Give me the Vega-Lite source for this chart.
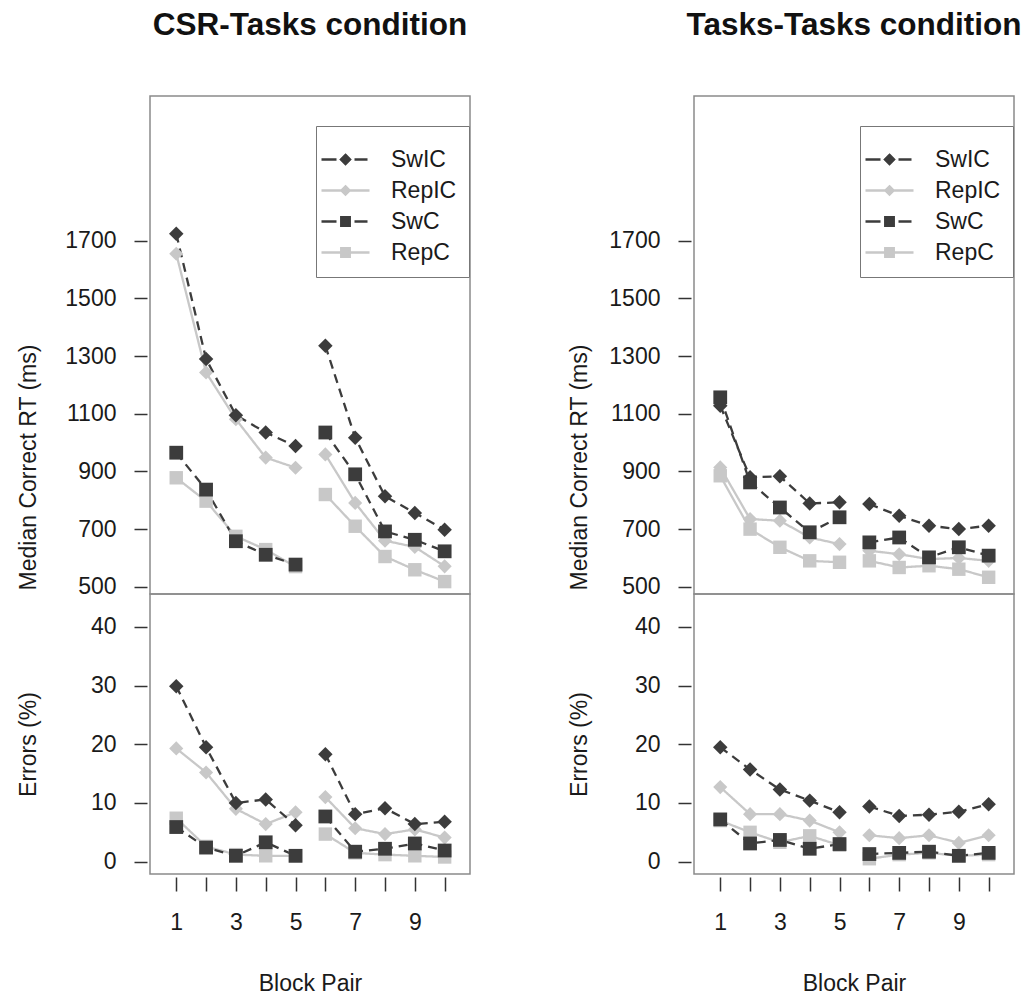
{
  "$schema": "https://vega.github.io/schema/vega-lite/v6.json",
  "background": "white",
  "padding": {"left": 16, "top": 8, "right": 2, "bottom": 2},
  "config": {
    "font": "Liberation Sans",
    "view": {"stroke": "#8a8a8a", "strokeWidth": 1.5},
    "axis": {"labelFont": "Liberation Sans", "labelFontSize": 23, "labelColor": "#1a1a1a", "titleFont": "Liberation Sans", "titleFontSize": 23, "titleFontWeight": "normal", "titleColor": "#1a1a1a", "tickColor": "#333333", "tickWidth": 1.5, "grid": false, "domain": false},
    "legend": {"orient": "none", "legendX": 166, "legendY": 30, "titleFontSize": 10, "titlePadding": 0, "padding": 12, "rowPadding": 7, "symbolSize": 400, "symbolStrokeWidth": 2.5, "symbolOffset": 6, "symbolOpacity": 1, "labelOffset": 34, "labelFontSize": 23, "labelFont": "Liberation Sans", "labelColor": "#1a1a1a", "strokeColor": "#777777", "fillColor": "white"},
    "title": {"font": "Liberation Sans"}
  },
  "datasets": {
    "csr_rt": [
      {"s":"RepC","b":1,"v":878,"g":1},{"s":"RepC","b":2,"v":797,"g":1},{"s":"RepC","b":3,"v":675,"g":1},{"s":"RepC","b":4,"v":629,"g":1},{"s":"RepC","b":5,"v":570,"g":1},
      {"s":"RepC","b":6,"v":820,"g":2},{"s":"RepC","b":7,"v":710,"g":2},{"s":"RepC","b":8,"v":605,"g":2},{"s":"RepC","b":9,"v":559,"g":2},{"s":"RepC","b":10,"v":518,"g":2},
      {"s":"RepIC","b":1,"v":1655,"g":1},{"s":"RepIC","b":2,"v":1243,"g":1},{"s":"RepIC","b":3,"v":1081,"g":1},{"s":"RepIC","b":4,"v":948,"g":1},{"s":"RepIC","b":5,"v":913,"g":1},
      {"s":"RepIC","b":6,"v":959,"g":2},{"s":"RepIC","b":7,"v":791,"g":2},{"s":"RepIC","b":8,"v":660,"g":2},{"s":"RepIC","b":9,"v":638,"g":2},{"s":"RepIC","b":10,"v":571,"g":2},
      {"s":"SwIC","b":1,"v":1724,"g":1},{"s":"SwIC","b":2,"v":1290,"g":1},{"s":"SwIC","b":3,"v":1095,"g":1},{"s":"SwIC","b":4,"v":1035,"g":1},{"s":"SwIC","b":5,"v":988,"g":1},
      {"s":"SwIC","b":6,"v":1336,"g":2},{"s":"SwIC","b":7,"v":1017,"g":2},{"s":"SwIC","b":8,"v":814,"g":2},{"s":"SwIC","b":9,"v":756,"g":2},{"s":"SwIC","b":10,"v":698,"g":2},
      {"s":"SwC","b":1,"v":965,"g":1},{"s":"SwC","b":2,"v":837,"g":1},{"s":"SwC","b":3,"v":658,"g":1},{"s":"SwC","b":4,"v":611,"g":1},{"s":"SwC","b":5,"v":577,"g":1},
      {"s":"SwC","b":6,"v":1035,"g":2},{"s":"SwC","b":7,"v":890,"g":2},{"s":"SwC","b":8,"v":692,"g":2},{"s":"SwC","b":9,"v":663,"g":2},{"s":"SwC","b":10,"v":623,"g":2}
    ],
    "csr_err": [
      {"s":"RepC","b":1,"v":7.4,"g":1},{"s":"RepC","b":2,"v":2.6,"g":1},{"s":"RepC","b":3,"v":1.2,"g":1},{"s":"RepC","b":4,"v":1.0,"g":1},{"s":"RepC","b":5,"v":1.0,"g":1},
      {"s":"RepC","b":6,"v":4.7,"g":2},{"s":"RepC","b":7,"v":1.5,"g":2},{"s":"RepC","b":8,"v":1.2,"g":2},{"s":"RepC","b":9,"v":1.0,"g":2},{"s":"RepC","b":10,"v":0.8,"g":2},
      {"s":"RepIC","b":1,"v":19.3,"g":1},{"s":"RepIC","b":2,"v":15.2,"g":1},{"s":"RepIC","b":3,"v":9.0,"g":1},{"s":"RepIC","b":4,"v":6.4,"g":1},{"s":"RepIC","b":5,"v":8.4,"g":1},
      {"s":"RepIC","b":6,"v":11.0,"g":2},{"s":"RepIC","b":7,"v":5.7,"g":2},{"s":"RepIC","b":8,"v":4.7,"g":2},{"s":"RepIC","b":9,"v":5.5,"g":2},{"s":"RepIC","b":10,"v":4.1,"g":2},
      {"s":"SwIC","b":1,"v":29.9,"g":1},{"s":"SwIC","b":2,"v":19.5,"g":1},{"s":"SwIC","b":3,"v":10.0,"g":1},{"s":"SwIC","b":4,"v":10.6,"g":1},{"s":"SwIC","b":5,"v":6.2,"g":1},
      {"s":"SwIC","b":6,"v":18.3,"g":2},{"s":"SwIC","b":7,"v":8.1,"g":2},{"s":"SwIC","b":8,"v":9.1,"g":2},{"s":"SwIC","b":9,"v":6.4,"g":2},{"s":"SwIC","b":10,"v":6.8,"g":2},
      {"s":"SwC","b":1,"v":5.9,"g":1},{"s":"SwC","b":2,"v":2.4,"g":1},{"s":"SwC","b":3,"v":1.0,"g":1},{"s":"SwC","b":4,"v":3.3,"g":1},{"s":"SwC","b":5,"v":1.0,"g":1},
      {"s":"SwC","b":6,"v":7.7,"g":2},{"s":"SwC","b":7,"v":1.7,"g":2},{"s":"SwC","b":8,"v":2.2,"g":2},{"s":"SwC","b":9,"v":3.1,"g":2},{"s":"SwC","b":10,"v":1.9,"g":2}
    ],
    "tt_rt": [
      {"s":"RepC","b":1,"v":885,"g":1},{"s":"RepC","b":2,"v":700,"g":1},{"s":"RepC","b":3,"v":637,"g":1},{"s":"RepC","b":4,"v":590,"g":1},{"s":"RepC","b":5,"v":585,"g":1},
      {"s":"RepC","b":6,"v":590,"g":2},{"s":"RepC","b":7,"v":567,"g":2},{"s":"RepC","b":8,"v":573,"g":2},{"s":"RepC","b":9,"v":561,"g":2},{"s":"RepC","b":10,"v":533,"g":2},
      {"s":"RepIC","b":1,"v":914,"g":1},{"s":"RepIC","b":2,"v":735,"g":1},{"s":"RepIC","b":3,"v":729,"g":1},{"s":"RepIC","b":4,"v":671,"g":1},{"s":"RepIC","b":5,"v":648,"g":1},
      {"s":"RepIC","b":6,"v":625,"g":2},{"s":"RepIC","b":7,"v":613,"g":2},{"s":"RepIC","b":8,"v":596,"g":2},{"s":"RepIC","b":9,"v":600,"g":2},{"s":"RepIC","b":10,"v":590,"g":2},
      {"s":"SwIC","b":1,"v":1128,"g":1},{"s":"SwIC","b":2,"v":880,"g":1},{"s":"SwIC","b":3,"v":883,"g":1},{"s":"SwIC","b":4,"v":789,"g":1},{"s":"SwIC","b":5,"v":793,"g":1},
      {"s":"SwIC","b":6,"v":787,"g":2},{"s":"SwIC","b":7,"v":746,"g":2},{"s":"SwIC","b":8,"v":712,"g":2},{"s":"SwIC","b":9,"v":700,"g":2},{"s":"SwIC","b":10,"v":712,"g":2},
      {"s":"SwC","b":1,"v":1157,"g":1},{"s":"SwC","b":2,"v":862,"g":1},{"s":"SwC","b":3,"v":775,"g":1},{"s":"SwC","b":4,"v":689,"g":1},{"s":"SwC","b":5,"v":741,"g":1},
      {"s":"SwC","b":6,"v":654,"g":2},{"s":"SwC","b":7,"v":671,"g":2},{"s":"SwC","b":8,"v":602,"g":2},{"s":"SwC","b":9,"v":637,"g":2},{"s":"SwC","b":10,"v":608,"g":2}
    ],
    "tt_err": [
      {"s":"RepC","b":1,"v":7.0,"g":1},{"s":"RepC","b":2,"v":5.0,"g":1},{"s":"RepC","b":3,"v":3.3,"g":1},{"s":"RepC","b":4,"v":4.4,"g":1},{"s":"RepC","b":5,"v":2.8,"g":1},
      {"s":"RepC","b":6,"v":0.5,"g":2},{"s":"RepC","b":7,"v":1.2,"g":2},{"s":"RepC","b":8,"v":1.5,"g":2},{"s":"RepC","b":9,"v":1.0,"g":2},{"s":"RepC","b":10,"v":1.2,"g":2},
      {"s":"RepIC","b":1,"v":12.7,"g":1},{"s":"RepIC","b":2,"v":8.1,"g":1},{"s":"RepIC","b":3,"v":8.1,"g":1},{"s":"RepIC","b":4,"v":7.0,"g":1},{"s":"RepIC","b":5,"v":5.0,"g":1},
      {"s":"RepIC","b":6,"v":4.5,"g":2},{"s":"RepIC","b":7,"v":4.0,"g":2},{"s":"RepIC","b":8,"v":4.5,"g":2},{"s":"RepIC","b":9,"v":3.2,"g":2},{"s":"RepIC","b":10,"v":4.5,"g":2},
      {"s":"SwIC","b":1,"v":19.5,"g":1},{"s":"SwIC","b":2,"v":15.7,"g":1},{"s":"SwIC","b":3,"v":12.3,"g":1},{"s":"SwIC","b":4,"v":10.4,"g":1},{"s":"SwIC","b":5,"v":8.4,"g":1},
      {"s":"SwIC","b":6,"v":9.4,"g":2},{"s":"SwIC","b":7,"v":7.8,"g":2},{"s":"SwIC","b":8,"v":8.0,"g":2},{"s":"SwIC","b":9,"v":8.5,"g":2},{"s":"SwIC","b":10,"v":9.8,"g":2},
      {"s":"SwC","b":1,"v":7.2,"g":1},{"s":"SwC","b":2,"v":3.1,"g":1},{"s":"SwC","b":3,"v":3.7,"g":1},{"s":"SwC","b":4,"v":2.2,"g":1},{"s":"SwC","b":5,"v":3.0,"g":1},
      {"s":"SwC","b":6,"v":1.3,"g":2},{"s":"SwC","b":7,"v":1.5,"g":2},{"s":"SwC","b":8,"v":1.7,"g":2},{"s":"SwC","b":9,"v":1.0,"g":2},{"s":"SwC","b":10,"v":1.5,"g":2}
    ]
  },
  "spacing": 96,
  "resolve": {"scale": {"x": "independent", "y": "independent", "color": "independent", "shape": "independent", "strokeDash": "independent", "size": "independent", "stroke": "independent"}},
  "hconcat": [
    {
      "spacing": 0,
      "bounds": "flush",
      "resolve": {"scale": {"x": "independent", "y": "independent", "color": "independent", "shape": "independent", "strokeDash": "independent", "size": "independent", "stroke": "independent"}},
      "vconcat": [
        {
          "width": 320, "height": 498,
          "title": {"text": "CSR-Tasks condition", "fontSize": 31.5, "fontWeight": "bold", "anchor": "middle", "frame": "group", "offset": 55, "color": "#111111"},
          "data": {"name": "csr_rt"},
          "encoding": {
            "x": {"field": "b", "type": "quantitative", "scale": {"domain": [0.12, 10.85], "nice": false, "zero": false}, "axis": null},
            "y": {"field": "v", "type": "quantitative", "scale": {"domain": [475, 2202], "nice": false, "zero": false},
                  "axis": {"values": [500, 700, 900, 1100, 1300, 1500, 1700], "format": "d", "title": "Median Correct RT (ms)", "tickSize": 13, "offset": 3, "labelPadding": 18, "titleX": -119, "titleY": 371, "titleBaseline": "middle", "titleAngle": -90}}
          },
          "resolve": {"scale": {"color": "independent", "shape": "independent", "stroke": "independent"}},
          "layer": [
            {
              "mark": {"type": "line", "strokeWidth": 2.3},
              "encoding": {
                "detail": {"field": "g", "type": "nominal"},
                "color": {"field": "s", "type": "nominal", "scale": {"domain": ["SwIC", "RepIC", "SwC", "RepC"], "range": ["#3c3c3c", "#c8c8c8", "#3c3c3c", "#c8c8c8"]}, "legend": null},
                "strokeDash": {"field": "s", "type": "nominal", "scale": {"domain": ["SwIC", "RepIC", "SwC", "RepC"], "range": [[9, 6], [1, 0], [9, 6], [1, 0]]}, "legend": null}
              }
            },
            {
              "mark": {"type": "point", "filled": true, "opacity": 1},
              "encoding": {
                "color": {"field": "s", "type": "nominal", "scale": {"domain": ["SwIC", "RepIC", "SwC", "RepC"], "range": ["#3c3c3c", "#c8c8c8", "#3c3c3c", "#c8c8c8"]}, "legend": null},
                "shape": {"field": "s", "type": "nominal", "scale": {"domain": ["SwIC", "RepIC", "SwC", "RepC"], "range": ["diamond", "diamond", "square", "square"]}, "legend": null},
                "size": {"field": "s", "type": "nominal", "scale": {"domain": ["SwIC", "RepIC", "SwC", "RepC"], "range": [210, 180, 270, 250]}, "legend": null}
              }
            },
            {
              "transform": [{"filter": "false"}],
              "mark": {"type": "point", "filled": true},
              "encoding": {
                "color": {"field": "s", "type": "nominal", "scale": {"domain": ["SwIC", "RepIC", "SwC", "RepC"], "range": ["#3c3c3c", "#c8c8c8", "#3c3c3c", "#c8c8c8"]}, "legend": {"title": " "}},
                "stroke": {"field": "s", "type": "nominal", "scale": {"domain": ["SwIC", "RepIC", "SwC", "RepC"], "range": ["#3c3c3c", "#c8c8c8", "#3c3c3c", "#c8c8c8"]}, "legend": {"title": " "}},
                "shape": {"field": "s", "type": "nominal", "scale": {"domain": ["SwIC", "RepIC", "SwC", "RepC"], "range": [
                  "M-2.4,0H-0.9M-0.5,0H0.5M0.9,0H2.2M0,-0.45L0.45,0L0,0.45L-0.45,0Z",
                  "M-2.4,0H2.4M0,-0.4L0.4,0L0,0.4L-0.4,0Z",
                  "M-2.4,0H-0.9M-0.5,0H0.5M0.9,0H2.2M-0.42,-0.42H0.42V0.42H-0.42Z",
                  "M-2.4,0H2.4M-0.42,-0.42H0.42V0.42H-0.42Z"]}, "legend": {"title": " "}}
              }
            }
          ]
        },
        {
          "width": 320, "height": 280,
          "data": {"name": "csr_err"},
          "encoding": {
            "x": {"field": "b", "type": "quantitative", "scale": {"domain": [0.12, 10.85], "nice": false, "zero": false},
                  "axis": {"values": [1, 2, 3, 4, 5, 6, 7, 8, 9, 10], "labelExpr": "datum.value % 2 == 1 ? datum.label : ''", "title": "Block Pair", "tickSize": 14, "offset": 3, "labelPadding": 20, "titlePadding": 38}},
            "y": {"field": "v", "type": "quantitative", "scale": {"domain": [-2.1, 45.6], "nice": false, "zero": false},
                  "axis": {"values": [0, 10, 20, 30, 40], "title": "Errors (%)", "tickSize": 13, "offset": 3, "labelPadding": 18, "titleX": -119, "titleY": 150, "titleBaseline": "middle", "titleAngle": -90}}
          },
          "layer": [
            {
              "mark": {"type": "line", "strokeWidth": 2.3},
              "encoding": {
                "detail": {"field": "g", "type": "nominal"},
                "color": {"field": "s", "type": "nominal", "scale": {"domain": ["SwIC", "RepIC", "SwC", "RepC"], "range": ["#3c3c3c", "#c8c8c8", "#3c3c3c", "#c8c8c8"]}, "legend": null},
                "strokeDash": {"field": "s", "type": "nominal", "scale": {"domain": ["SwIC", "RepIC", "SwC", "RepC"], "range": [[9, 6], [1, 0], [9, 6], [1, 0]]}, "legend": null}
              }
            },
            {
              "mark": {"type": "point", "filled": true, "opacity": 1},
              "encoding": {
                "color": {"field": "s", "type": "nominal", "scale": {"domain": ["SwIC", "RepIC", "SwC", "RepC"], "range": ["#3c3c3c", "#c8c8c8", "#3c3c3c", "#c8c8c8"]}, "legend": null},
                "shape": {"field": "s", "type": "nominal", "scale": {"domain": ["SwIC", "RepIC", "SwC", "RepC"], "range": ["diamond", "diamond", "square", "square"]}, "legend": null},
                "size": {"field": "s", "type": "nominal", "scale": {"domain": ["SwIC", "RepIC", "SwC", "RepC"], "range": [210, 180, 270, 250]}, "legend": null}
              }
            }
          ]
        }
      ]
    },
    {
      "spacing": 0,
      "bounds": "flush",
      "resolve": {"scale": {"x": "independent", "y": "independent", "color": "independent", "shape": "independent", "strokeDash": "independent", "size": "independent", "stroke": "independent"}},
      "vconcat": [
        {
          "width": 320, "height": 498,
          "title": {"text": "Tasks-Tasks condition", "fontSize": 31.5, "fontWeight": "bold", "anchor": "middle", "frame": "group", "offset": 55, "color": "#111111"},
          "data": {"name": "tt_rt"},
          "encoding": {
            "x": {"field": "b", "type": "quantitative", "scale": {"domain": [0.12, 10.85], "nice": false, "zero": false}, "axis": null},
            "y": {"field": "v", "type": "quantitative", "scale": {"domain": [475, 2202], "nice": false, "zero": false},
                  "axis": {"values": [500, 700, 900, 1100, 1300, 1500, 1700], "format": "d", "title": "Median Correct RT (ms)", "tickSize": 13, "offset": 3, "labelPadding": 18, "titleX": -112, "titleY": 371, "titleBaseline": "middle", "titleAngle": -90}}
          },
          "resolve": {"scale": {"color": "independent", "shape": "independent", "stroke": "independent"}},
          "layer": [
            {
              "mark": {"type": "line", "strokeWidth": 2.3},
              "encoding": {
                "detail": {"field": "g", "type": "nominal"},
                "color": {"field": "s", "type": "nominal", "scale": {"domain": ["SwIC", "RepIC", "SwC", "RepC"], "range": ["#3c3c3c", "#c8c8c8", "#3c3c3c", "#c8c8c8"]}, "legend": null},
                "strokeDash": {"field": "s", "type": "nominal", "scale": {"domain": ["SwIC", "RepIC", "SwC", "RepC"], "range": [[9, 6], [1, 0], [9, 6], [1, 0]]}, "legend": null}
              }
            },
            {
              "mark": {"type": "point", "filled": true, "opacity": 1},
              "encoding": {
                "color": {"field": "s", "type": "nominal", "scale": {"domain": ["SwIC", "RepIC", "SwC", "RepC"], "range": ["#3c3c3c", "#c8c8c8", "#3c3c3c", "#c8c8c8"]}, "legend": null},
                "shape": {"field": "s", "type": "nominal", "scale": {"domain": ["SwIC", "RepIC", "SwC", "RepC"], "range": ["diamond", "diamond", "square", "square"]}, "legend": null},
                "size": {"field": "s", "type": "nominal", "scale": {"domain": ["SwIC", "RepIC", "SwC", "RepC"], "range": [210, 180, 270, 250]}, "legend": null}
              }
            },
            {
              "transform": [{"filter": "false"}],
              "mark": {"type": "point", "filled": true},
              "encoding": {
                "color": {"field": "s", "type": "nominal", "scale": {"domain": ["SwIC", "RepIC", "SwC", "RepC"], "range": ["#3c3c3c", "#c8c8c8", "#3c3c3c", "#c8c8c8"]}, "legend": {"title": " "}},
                "stroke": {"field": "s", "type": "nominal", "scale": {"domain": ["SwIC", "RepIC", "SwC", "RepC"], "range": ["#3c3c3c", "#c8c8c8", "#3c3c3c", "#c8c8c8"]}, "legend": {"title": " "}},
                "shape": {"field": "s", "type": "nominal", "scale": {"domain": ["SwIC", "RepIC", "SwC", "RepC"], "range": [
                  "M-2.4,0H-0.9M-0.5,0H0.5M0.9,0H2.2M0,-0.45L0.45,0L0,0.45L-0.45,0Z",
                  "M-2.4,0H2.4M0,-0.4L0.4,0L0,0.4L-0.4,0Z",
                  "M-2.4,0H-0.9M-0.5,0H0.5M0.9,0H2.2M-0.42,-0.42H0.42V0.42H-0.42Z",
                  "M-2.4,0H2.4M-0.42,-0.42H0.42V0.42H-0.42Z"]}, "legend": {"title": " "}}
              }
            }
          ]
        },
        {
          "width": 320, "height": 280,
          "data": {"name": "tt_err"},
          "encoding": {
            "x": {"field": "b", "type": "quantitative", "scale": {"domain": [0.12, 10.85], "nice": false, "zero": false},
                  "axis": {"values": [1, 2, 3, 4, 5, 6, 7, 8, 9, 10], "labelExpr": "datum.value % 2 == 1 ? datum.label : ''", "title": "Block Pair", "tickSize": 14, "offset": 3, "labelPadding": 20, "titlePadding": 38}},
            "y": {"field": "v", "type": "quantitative", "scale": {"domain": [-2.1, 45.6], "nice": false, "zero": false},
                  "axis": {"values": [0, 10, 20, 30, 40], "title": "Errors (%)", "tickSize": 13, "offset": 3, "labelPadding": 18, "titleX": -112, "titleY": 150, "titleBaseline": "middle", "titleAngle": -90}}
          },
          "layer": [
            {
              "mark": {"type": "line", "strokeWidth": 2.3},
              "encoding": {
                "detail": {"field": "g", "type": "nominal"},
                "color": {"field": "s", "type": "nominal", "scale": {"domain": ["SwIC", "RepIC", "SwC", "RepC"], "range": ["#3c3c3c", "#c8c8c8", "#3c3c3c", "#c8c8c8"]}, "legend": null},
                "strokeDash": {"field": "s", "type": "nominal", "scale": {"domain": ["SwIC", "RepIC", "SwC", "RepC"], "range": [[9, 6], [1, 0], [9, 6], [1, 0]]}, "legend": null}
              }
            },
            {
              "mark": {"type": "point", "filled": true, "opacity": 1},
              "encoding": {
                "color": {"field": "s", "type": "nominal", "scale": {"domain": ["SwIC", "RepIC", "SwC", "RepC"], "range": ["#3c3c3c", "#c8c8c8", "#3c3c3c", "#c8c8c8"]}, "legend": null},
                "shape": {"field": "s", "type": "nominal", "scale": {"domain": ["SwIC", "RepIC", "SwC", "RepC"], "range": ["diamond", "diamond", "square", "square"]}, "legend": null},
                "size": {"field": "s", "type": "nominal", "scale": {"domain": ["SwIC", "RepIC", "SwC", "RepC"], "range": [210, 180, 270, 250]}, "legend": null}
              }
            }
          ]
        }
      ]
    }
  ]
}
